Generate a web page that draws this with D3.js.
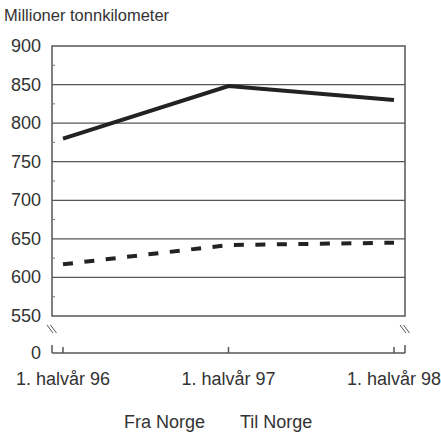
<!DOCTYPE html>
<html>
<head>
<meta charset="utf-8">
<script src="https://cdn.jsdelivr.net/npm/d3@7"></script>
<style>
  body { margin: 0; background: #fff; }
  svg text { font-family: "Liberation Sans Narrow", "Arial Narrow", "Liberation Sans", sans-serif; fill: #333; }
</style>
</head>
<body>
<div id="chart"></div>
<script>
// chart data
const periods = ["1. halvår 96", "1. halvår 97", "1. halvår 98"];
const fraNorge = [780, 848, 830];
const tilNorge = [617, 642, 645];
const yTicks = [550, 600, 650, 700, 750, 800, 850, 900];
const legendLabels = ["Fra Norge", "Til Norge"];

let width = 441, height = 437;
let plotLeft = 52, plotRight = 405, plotTop = 46, plotBottom = 316;

let svg = d3.select('#chart').append('svg')
  .attr('width', width)
  .attr('height', height);

let x = d3.scalePoint().domain(periods).range([63, 394]);
let y = d3.scaleLinear().domain([550, 900]).range([plotBottom, plotTop]);

// title
svg.append('text')
  .attr('x', 4).attr('y', 21)
  .style('font-size', '16.5px')
  .text('Millioner tonnkilometer');

// gridlines
svg.selectAll('.grid')
  .data(yTicks.slice(1, -1))
  .enter().append('line')
  .attr('x1', plotLeft).attr('x2', plotRight)
  .attr('y1', d => y(d)).attr('y2', d => y(d))
  .attr('stroke', '#555').attr('stroke-width', 1.2);

// frame
svg.append('rect')
  .attr('x', plotLeft).attr('y', plotTop)
  .attr('width', plotRight - plotLeft).attr('height', plotBottom - plotTop)
  .attr('fill', 'none').attr('stroke', '#555').attr('stroke-width', 1.5);

// minor ticks on left axis
svg.selectAll('.minor')
  .data(d3.range(575, 900, 50))
  .enter().append('line')
  .attr('x1', plotLeft).attr('x2', plotLeft + 3)
  .attr('y1', d => y(d)).attr('y2', d => y(d))
  .attr('stroke', '#777');

// y labels
svg.selectAll('.ylab')
  .data(yTicks)
  .enter().append('text')
  .attr('x', 41).attr('y', d => y(d) + 6)
  .attr('text-anchor', 'end')
  .style('font-size', '18px')
  .text(d => d);

// zero label and broken axis
let zeroY = 353;
svg.append('text')
  .attr('x', 41).attr('y', zeroY + 6)
  .attr('text-anchor', 'end')
  .style('font-size', '18px')
  .text('0');

svg.append('line')
  .attr('x1', plotLeft).attr('x2', plotRight)
  .attr('y1', zeroY).attr('y2', zeroY)
  .attr('stroke', '#555').attr('stroke-width', 1.5);

[plotLeft, plotRight].forEach(xx => {
  svg.append('line')
    .attr('x1', xx).attr('x2', xx)
    .attr('y1', zeroY - 8).attr('y2', zeroY)
    .attr('stroke', '#555').attr('stroke-width', 1.5);
  // break marks
  [0, 3.5].forEach(off => {
    svg.append('line')
      .attr('x1', xx - 5 + off).attr('y1', 325)
      .attr('x2', xx + 1 + off).attr('y2', 333)
      .attr('stroke', '#555').attr('stroke-width', 1);
  });
});

svg.selectAll('.xtick')
  .data(periods)
  .enter().append('line')
  .attr('x1', d => x(d)).attr('x2', d => x(d))
  .attr('y1', zeroY - 6).attr('y2', zeroY)
  .attr('stroke', '#555').attr('stroke-width', 1.5);

svg.selectAll('.xlab')
  .data(periods)
  .enter().append('text')
  .attr('x', d => x(d)).attr('y', 385)
  .attr('text-anchor', 'middle')
  .style('font-size', '18px')
  .text(d => d);

// lines
let line = d3.line()
  .x((d, i) => x(periods[i]))
  .y(d => y(d));

svg.append('path')
  .datum(fraNorge)
  .attr('d', line)
  .attr('fill', 'none')
  .attr('stroke', '#222').attr('stroke-width', 4);

svg.append('path')
  .datum(tilNorge)
  .attr('d', line)
  .attr('fill', 'none')
  .attr('stroke', '#222').attr('stroke-width', 4)
  .attr('stroke-dasharray', '10,11.5');

// legend
svg.selectAll('.leg')
  .data(legendLabels)
  .enter().append('text')
  .attr('x', (d, i) => i == 0 ? 124 : 240)
  .attr('y', 428)
  .style('font-size', '18px')
  .text(d => d);
</script>
</body>
</html>
